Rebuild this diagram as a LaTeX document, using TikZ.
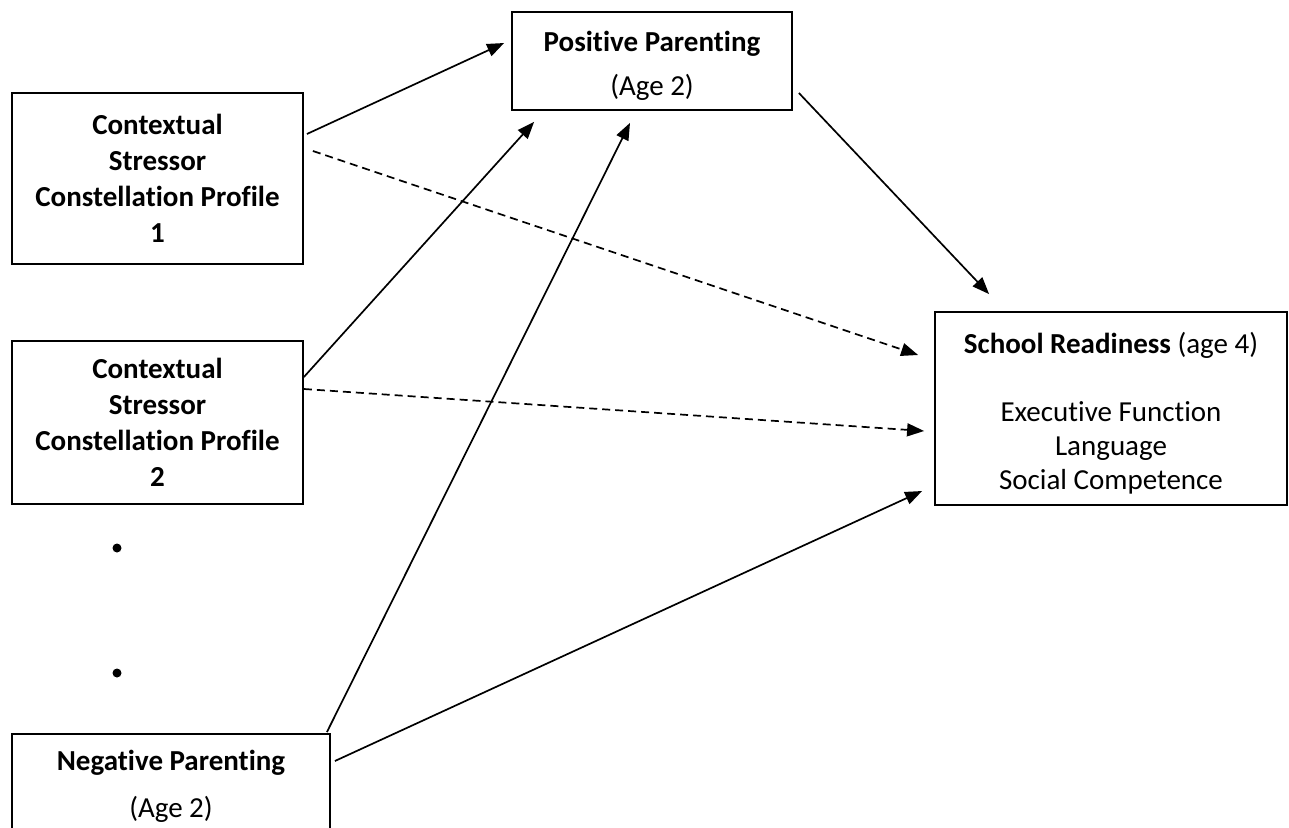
\documentclass[tikz,border=0pt]{standalone}
\usepackage{fontspec}
\setmainfont{Carlito}[Ligatures=NoCommon]
\usetikzlibrary{arrows.meta,calc}
\begin{document}
\begin{tikzpicture}[x=1pt,y=-1pt,
  box/.style={draw,line width=1.8pt,inner sep=0pt,align=center,font=\fontsize{29}{36}\selectfont},
  arr/.style={line width=1.7pt,-{Triangle[length=17pt,width=13pt]}},
  dsh/.style={arr,dash pattern=on 8pt off 5pt}]
\useasboundingbox (0,0) rectangle (1289,827);
\clip (0,0) rectangle (1289,827);
\node[box,minimum width=291pt,minimum height=171pt] (cs1) at (157.5,178.5)
  {\textbf{Contextual}\\\textbf{Stressor}\\\textbf{Constellation Profile}\\\textbf{1}};
\node[box,minimum width=291pt,minimum height=163pt] (cs2) at (157.5,422.5)
  {\textbf{Contextual}\\\textbf{Stressor}\\\textbf{Constellation Profile}\\\textbf{2}};
\node[box,minimum width=280pt,minimum height=98pt,font=\fontsize{29}{44}\selectfont] (pp) at (652,61)
  {\rule{0pt}{30pt}\textbf{Positive Parenting}\\(Age 2)};
\node[box,minimum width=352pt,minimum height=193pt,font=\fontsize{29}{34}\selectfont] (sr) at (1111,408.5)
  {\rule{0pt}{30pt}\textbf{School Readiness} (age 4)\\[34pt]Executive Function\\Language\\Social Competence};
\node[box,minimum width=318pt,minimum height=105pt,font=\fontsize{29}{47}\selectfont] (np) at (171,786.5)
  {\textbf{Negative Parenting}\\(Age 2)};
\node[circle,fill,inner sep=0pt,minimum size=9pt] (d1) at (117,548) {};
\node[circle,fill,inner sep=0pt,minimum size=9pt] (d2) at (117,673) {};
\draw[arr] ($(cs1.east)+(3,-44.5)$) -- ($(pp.west)+(-7,-18)$);
\draw[dsh] ($(cs1.east)+(9,-27.5)$) -- ($(sr.west)+(-16,-53.5)$);
\draw[arr] ($(cs2.east)+(0,-45.5)$) -- ($(pp.south west)+(23,11)$);
\draw[dsh] ($(cs2.east)+(0,-33.5)$) -- ($(sr.west)+(-10,22.5)$);
\draw[arr] ($(np.north east)+(-4,-1)$) -- ($(pp.south)+(-22,12)$);
\draw[arr] ($(np.east)+(4,-25.5)$) -- ($(sr.west)+(-12,82.5)$);
\draw[arr] ($(pp.east)+(6,32)$) -- ($(sr.north west)+(55,-17)$);
\end{tikzpicture}
\end{document}
